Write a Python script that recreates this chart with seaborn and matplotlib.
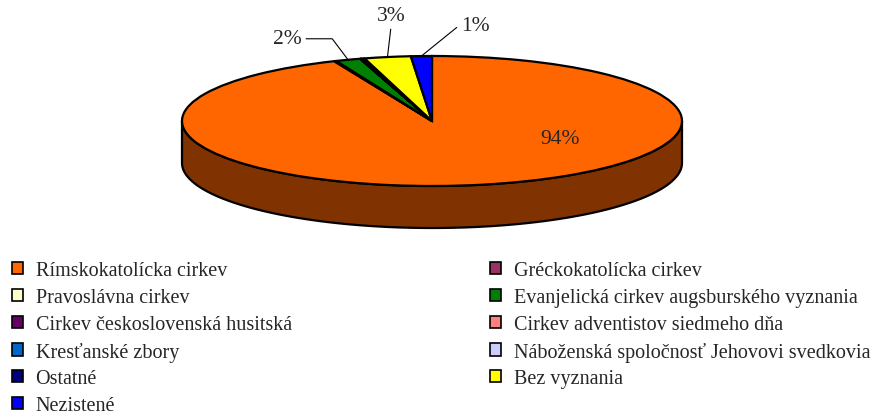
import numpy as np
import matplotlib
matplotlib.use("Agg")
import matplotlib.pyplot as plt
from matplotlib.patches import Patch
from matplotlib.transforms import Affine2D
from matplotlib.colors import to_rgb
import seaborn as sns

# === DATA ===
categories = [
    "Rímskokatolícka cirkev",
    "Gréckokatolícka cirkev",
    "Pravoslávna cirkev",
    "Evanjelická cirkev augsburského vyznania",
    "Cirkev československá husitská",
    "Cirkev adventistov siedmeho dňa",
    "Kresťanské zbory",
    "Náboženská spoločnosť Jehovovi svedkovia",
    "Ostatné",
    "Bez vyznania",
    "Nezistené",
]
shares = [93.6, 0.1, 0.05, 1.6, 0.02, 0.05, 0.03, 0.1, 0.1, 3.0, 1.35]
colors = ["#FF6600", "#993366", "#FFFFCC", "#008000", "#660066", "#FF8080",
          "#0066CC", "#CCCCFF", "#000080", "#FFFF00", "#0000FF"]

# === LAYOUT (pixels) ===
W, H, DPI = 884, 414, 100
RX = 250            # horizontal radius of the pie
CX, CY = 432, 122   # centre of the top face
TILT = 65 / 250     # vertical squash of the ellipse
DEPTH = 42 / 250    # thickness of the cake
# label offsets from the rim point (px, y up), and leader line style
label_style = {
    0: dict(off=(78, 46), leader=None),
    3: dict(off=(-61, 21), leader=("angle,angleA=0,angleB=-53,rad=0", (1, 0.5))),
    9: dict(off=(4, 42), leader=("arc3", (0.5, 0.1))),
    10: dict(off=(54, 31), leader=("angle,angleA=0,angleB=39,rad=0", (0, 0.5))),
}

sns.set_style("white")
plt.rcParams["font.family"] = ["Liberation Serif", "DejaVu Serif"]

fig = plt.figure(figsize=(W / DPI, H / DPI), dpi=DPI)
ax = fig.add_axes([0, 0, 1, 1])

wedges, _ = ax.pie(shares, colors=colors, startangle=90, counterclock=False,
                   wedgeprops=dict(edgecolor="black", linewidth=1.6))
squash = Affine2D().scale(1, TILT) + ax.transData
for w in wedges:
    w.set_transform(squash)
    w.set_zorder(3)

# side of the cake: only the front half (180..360 deg) is visible
for w, c in zip(wedges, colors):
    a0, a1 = w.theta1, w.theta2
    dark = [v * 0.5 for v in to_rgb(c)]
    for k in (-360, 0, 360):
        lo, hi = max(a0, 180 + k), min(a1, 360 + k)
        if hi <= lo:
            continue
        t = np.radians(np.linspace(lo, hi, 200))
        xs, ys = np.cos(t), TILT * np.sin(t)
        ax.fill(np.concatenate([xs, xs[::-1]]),
                np.concatenate([ys, ys[::-1] - DEPTH]),
                facecolor=dark, edgecolor="black", linewidth=1.6, zorder=2)

# percentage labels
for i, st in label_style.items():
    w = wedges[i]
    mid = np.radians((w.theta1 + w.theta2) / 2)
    xy = (np.cos(mid), TILT * np.sin(mid))
    txt = f"{shares[i]:.0f}%"
    if st["leader"] is None:
        ax.annotate(txt, xy, xytext=st["off"], textcoords="offset pixels",
                    ha="center", va="center", fontsize=15.5, zorder=5)
    else:
        style, rel = st["leader"]
        ax.annotate(txt, xy, xytext=st["off"], textcoords="offset pixels",
                    ha="center", va="center", fontsize=15.5, zorder=5,
                    arrowprops=dict(arrowstyle="-", color="black", lw=0.8,
                                    connectionstyle=style, relpos=rel,
                                    shrinkA=1, shrinkB=0))

ax.set_xlim(-CX / RX, (W - CX) / RX)
ax.set_ylim(-(H - CY) / RX, CY / RX)
ax.set_aspect("auto")
ax.axis("off")

# legend laid out row by row in two columns
handles = [Patch(facecolor=c, edgecolor="black", linewidth=1.2) for c in colors]
leg_kw = dict(frameon=False, loc="upper left", fontsize=14.5, handlelength=0.55,
              handleheight=0.55, handletextpad=0.62, labelspacing=0.39,
              borderpad=0, borderaxespad=0)
left = list(range(0, len(categories), 2))
right = list(range(1, len(categories), 2))
fig.legend([handles[i] for i in left], [categories[i] for i in left],
           bbox_to_anchor=(12 / W, 1 - 262 / H), **leg_kw)
fig.legend([handles[i] for i in right], [categories[i] for i in right],
           bbox_to_anchor=(490 / W, 1 - 262 / H), **leg_kw)

fig.savefig("out.png", dpi=DPI)
